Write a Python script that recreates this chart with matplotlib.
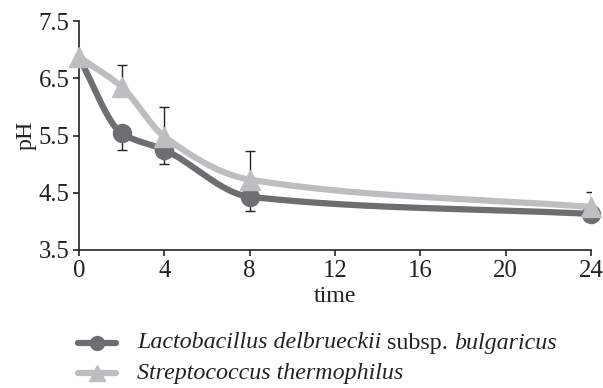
import numpy as np
import matplotlib
matplotlib.use("Agg")
import matplotlib.pyplot as plt
from matplotlib.lines import Line2D

time = [0, 2, 4, 8, 24]
ph_lacto = [6.86, 5.54, 5.25, 4.43, 4.13]
err_lacto = [0.0, 0.30, 0.24, 0.25, 0.0]
ph_strep = [6.87, 6.35, 5.48, 4.73, 4.25]
err_strep = [0.0, 0.38, 0.52, 0.50, 0.26]
xticks = [0, 4, 8, 12, 16, 20, 24]
yticks = [3.5, 4.5, 5.5, 6.5, 7.5]
labels_lacto = [("Lactobacillus delbrueckii", "italic"), (" subsp. ", "normal"), ("bulgaricus", "italic")]
labels_strep = [("Streptococcus thermophilus", "italic")]

c_dark = "#6d6e71"
c_light = "#bcbec0"
FONT = "Liberation Serif"
FS = 17.3


def pchip(x, y, n=300):
    x = np.asarray(x, float); y = np.asarray(y, float)
    h = np.diff(x); d = np.diff(y) / h
    m = np.zeros_like(y)
    for k in range(1, len(x) - 1):
        if d[k - 1] * d[k] > 0:
            w1 = 2 * h[k] + h[k - 1]; w2 = h[k] + 2 * h[k - 1]
            m[k] = (w1 + w2) / (w1 / d[k - 1] + w2 / d[k])
    m[0] = d[0]; m[-1] = d[-1]
    xs = np.linspace(x[0], x[-1], n)
    idx = np.clip(np.searchsorted(x, xs) - 1, 0, len(x) - 2)
    t = (xs - x[idx]) / h[idx]
    h00 = 2 * t**3 - 3 * t**2 + 1; h10 = t**3 - 2 * t**2 + t
    h01 = -2 * t**3 + 3 * t**2; h11 = t**3 - t**2
    ys = h00 * y[idx] + h10 * h[idx] * m[idx] + h01 * y[idx + 1] + h11 * h[idx] * m[idx + 1]
    return xs, ys


fig = plt.figure(figsize=(6.03, 3.88), dpi=100)
ax = fig.add_axes([79 / 603, 1 - 250 / 388, 512 / 603, 229 / 388])

# error bars (one-sided)
ax.errorbar(time, ph_lacto, yerr=[err_lacto, [0] * len(err_lacto)], fmt="none",
            ecolor="#222222", elinewidth=1, capsize=3.5, capthick=1, zorder=1)
ax.errorbar(time, ph_strep, yerr=[[0] * len(err_strep), err_strep], fmt="none",
            ecolor="#222222", elinewidth=1, capsize=3.5, capthick=1, zorder=1)

xs, ys = pchip(time, ph_lacto)
ax.plot(xs, ys, color=c_dark, lw=4.5, solid_capstyle="round", zorder=2, clip_on=False)
ax.plot(time, ph_lacto, "o", color=c_dark, ms=13, zorder=3, clip_on=False,
        markevery=list(range(1, len(time))))
xs, ys = pchip(time, ph_strep)
ax.plot(xs, ys, color=c_light, lw=4.5, solid_capstyle="round", zorder=4, clip_on=False)
ax.plot(time, ph_strep, "^", color=c_light, ms=14, zorder=5, clip_on=False)

ax.set_xlim(0, 24)
ax.set_ylim(3.5, 7.5)
ax.set_xticks(xticks)
ax.set_yticks(yticks)
ax.set_xticklabels([str(v) for v in xticks])
ax.set_yticklabels([f"{v:.1f}" for v in yticks])
for s in ["top", "right"]:
    ax.spines[s].set_visible(False)
for s in ["left", "bottom"]:
    ax.spines[s].set_linewidth(1.2)
    ax.spines[s].set_color("#222222")
ax.tick_params(direction="out", length=4.5, width=1.2, colors="#222222",
               labelsize=FS + 0.5, pad=2.5)
for lab in ax.get_xticklabels() + ax.get_yticklabels():
    lab.set_fontfamily(FONT)
    lab.set_color("#222222")
ax.set_xlabel("time", fontsize=FS, family=FONT, color="#222222", labelpad=3)
ax.set_ylabel("pH", fontsize=FS, family=FONT, color="#222222", labelpad=1)

# legend drawn manually (mixed italic / upright text)
rows = [(c_dark, "o", 10, labels_lacto, 343), (c_light, "^", 11, labels_strep, 373)]
fig.canvas.draw()
renderer = fig.canvas.get_renderer()
for color, marker, ms, parts, ypx in rows:
    yf = 1 - ypx / 388
    fig.add_artist(Line2D([78 / 603, 116 / 603], [yf, yf], color=color, lw=4.5,
                          solid_capstyle="round", transform=fig.transFigure))
    fig.add_artist(Line2D([97 / 603], [yf], marker=marker, ms=ms, color=color,
                          lw=0, transform=fig.transFigure))
    xpx = 137
    for txt, style in parts:
        t = fig.text(xpx / 603, yf, txt, fontsize=FS, family=FONT, style=style,
                     color="#222222", va="center", ha="left")
        bb = t.get_window_extent(renderer=renderer)
        xpx += bb.width

fig.savefig("out.png", dpi=100)
